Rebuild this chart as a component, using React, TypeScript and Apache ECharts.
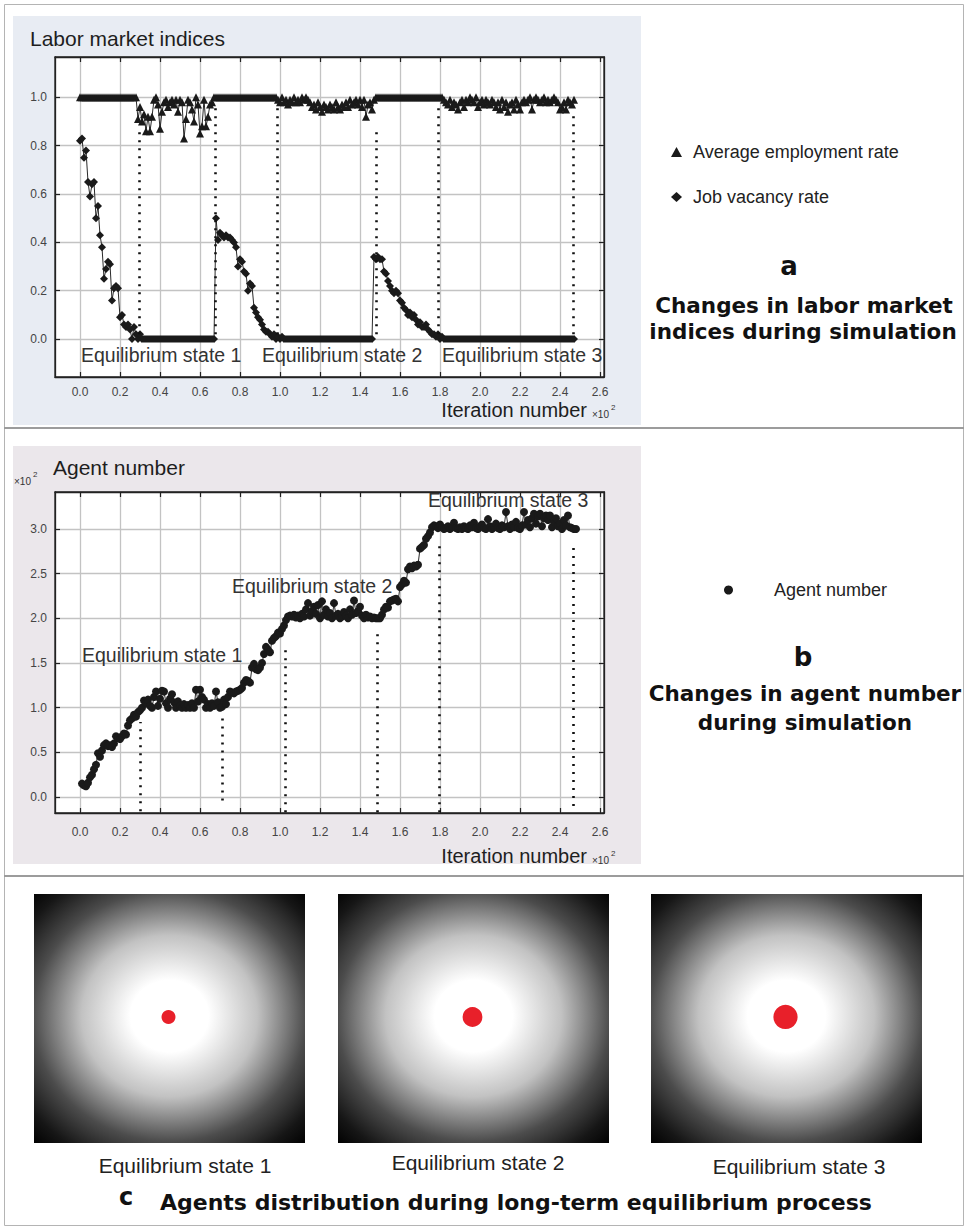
import React, { useEffect, useRef } from "react";
import * as echarts from "echarts";

// ---------- data ----------
// Panel a: one value per iteration, index 0 = iteration 0
const ITER_START_A = 0;
const employmentRate = [
  1.0, 1.0, 1.0, 1.0, 1.0, 1.0, 1.0, 1.0, 1.0, 1.0,
  1.0, 1.0, 1.0, 1.0, 1.0, 1.0, 1.0, 1.0, 1.0, 1.0,
  1.0, 1.0, 1.0, 1.0, 1.0, 1.0, 1.0, 1.0, 1.0,
  0.91, 0.96, 0.90, 0.93, 0.86, 0.92, 0.86, 0.92, 0.99, 1.00,
  0.97, 0.87, 0.94, 0.98, 0.99, 0.96, 0.98, 0.99, 0.97, 0.99,
  0.94, 0.99, 0.98, 0.83, 0.91, 0.99, 0.98, 0.95, 0.90, 1.00,
  0.97, 0.85, 0.88, 0.99, 0.88, 0.92, 0.97, 0.98, 1.00,
  1.0, 1.0, 1.0, 1.0, 1.0, 1.0, 1.0, 1.0, 1.0, 1.0,
  1.0, 1.0, 1.0, 1.0, 1.0, 1.0, 1.0, 1.0, 1.0, 1.0,
  1.0, 1.0, 1.0, 1.0, 1.0, 1.0, 1.0, 1.0, 1.0, 1.0, 1.0,
  0.99, 0.98, 1.00, 0.98, 0.99, 0.97, 0.99, 0.98, 1.00, 0.98,
  0.99, 0.98, 1.00, 0.99, 1.00, 0.99, 0.98, 0.96, 0.97, 0.95,
  0.98, 0.96, 0.94, 0.97, 0.96, 0.95, 0.97, 0.96, 0.95, 0.98,
  0.96, 0.95, 0.97, 0.96, 0.98, 0.96, 0.99, 0.97, 0.98, 0.99,
  0.97, 0.99, 0.96, 0.99, 0.92, 0.97, 0.98, 0.95, 0.99,
  1.0, 1.0, 1.0, 1.0, 1.0, 1.0, 1.0, 1.0, 1.0, 1.0,
  1.0, 1.0, 1.0, 1.0, 1.0, 1.0, 1.0, 1.0, 1.0, 1.0,
  1.0, 1.0, 1.0, 1.0, 1.0, 1.0, 1.0, 1.0, 1.0, 1.0,
  1.0, 1.0, 1.0,
  1.00, 0.99, 0.98, 0.97, 0.99, 0.96, 0.98, 0.97, 0.95, 0.98,
  0.99, 0.96, 0.99, 0.98, 1.00, 0.99, 0.98, 1.00, 0.96, 0.98,
  0.99, 0.97, 0.99, 0.98, 0.97, 0.99, 0.98, 0.96, 0.98, 0.95,
  0.99, 0.96, 0.98, 0.94, 0.97, 0.98, 0.95, 0.99, 0.97, 0.95,
  0.98, 0.99, 0.98, 0.99, 1.00, 0.95, 0.99, 1.00, 0.99, 0.98,
  0.99, 1.00, 0.98, 0.99, 0.98, 0.99, 1.00, 0.99, 0.98, 0.95,
  0.96, 0.98, 0.95, 0.99, 0.98, 0.97, 0.99,
];

const jobVacancyRate = [
  0.82, 0.83, 0.75, 0.78, 0.65, 0.59, 0.64, 0.65, 0.50, 0.55,
  0.43, 0.38, 0.25, 0.29, 0.32, 0.31, 0.16, 0.21, 0.22, 0.21,
  0.09, 0.10, 0.06, 0.05, 0.06, 0.04, 0.00, 0.05, 0.02, 0.00,
  0.02, 0.00,
  0, 0, 0, 0, 0, 0, 0, 0, 0, 0,
  0, 0, 0, 0, 0, 0, 0, 0, 0, 0,
  0, 0, 0, 0, 0, 0, 0, 0, 0, 0,
  0, 0, 0, 0, 0, 0,
  0.50, 0.41, 0.44, 0.43, 0.42, 0.43, 0.42, 0.42, 0.41, 0.40,
  0.38, 0.30, 0.33, 0.32, 0.28, 0.27, 0.20, 0.23, 0.22, 0.13,
  0.11, 0.09, 0.08, 0.06, 0.04, 0.03, 0.03, 0.02, 0.01, 0.02,
  0.00, 0.01, 0.00, 0.01, 0.00,
  0, 0, 0, 0, 0, 0, 0, 0, 0, 0,
  0, 0, 0, 0, 0, 0, 0, 0, 0, 0,
  0, 0, 0, 0, 0, 0, 0, 0, 0, 0,
  0, 0, 0, 0, 0, 0, 0, 0, 0, 0,
  0, 0, 0, 0,
  0.34, 0.33, 0.34, 0.33, 0.33, 0.28, 0.27, 0.24, 0.22, 0.20,
  0.19, 0.20, 0.19, 0.16, 0.15, 0.13, 0.12, 0.10, 0.11, 0.09,
  0.10, 0.08, 0.06, 0.07, 0.05, 0.05, 0.06, 0.04, 0.03, 0.02,
  0.02, 0.01, 0.02, 0.00, 0.01, 0.00,
  0, 0, 0, 0, 0, 0, 0, 0, 0, 0,
  0, 0, 0, 0, 0, 0, 0, 0, 0, 0,
  0, 0, 0, 0, 0, 0, 0, 0, 0, 0,
  0, 0, 0, 0, 0, 0, 0, 0, 0, 0,
  0, 0, 0, 0, 0, 0, 0, 0, 0, 0,
  0, 0, 0, 0, 0, 0, 0, 0, 0, 0,
  0, 0, 0, 0, 0,
];

// Panel b: agent number (x10^2), index 0 = iteration 1
const ITER_START_B = 1;
const agentNumber = [
  0.15, 0.13, 0.12, 0.16, 0.22, 0.25, 0.31, 0.36, 0.49, 0.45,
  0.52, 0.58, 0.60, 0.57, 0.58, 0.56, 0.60, 0.68, 0.66, 0.65,
  0.68, 0.71, 0.70, 0.80, 0.86, 0.88, 0.92, 0.90, 0.95, 0.97,
  1.00, 1.08, 1.05, 1.09, 1.02, 1.00, 1.12, 1.18, 1.02, 1.10,
  1.19, 1.18, 1.05, 1.00, 1.10, 1.15, 1.06, 1.00, 1.07, 1.02,
  1.00, 1.04, 1.00, 1.03, 1.00, 1.05, 1.00, 1.20, 1.07, 1.20,
  1.12, 1.09, 1.00, 1.04, 1.00, 1.05, 1.02, 1.18, 1.06, 1.00,
  1.01, 1.09, 1.04, 1.12, 1.18, 1.17, 1.16, 1.18, 1.19, 1.20,
  1.22, 1.28, 1.31, 1.30, 1.28, 1.45, 1.49, 1.43, 1.42, 1.45,
  1.50, 1.60, 1.68, 1.65, 1.62, 1.75, 1.78, 1.80, 1.84, 1.83,
  1.88, 1.92, 1.98, 2.02, 2.03, 2.02, 2.04, 2.01, 2.03, 2.00,
  2.05, 2.02, 2.10, 2.17, 2.03, 2.08, 2.13, 2.05, 2.15, 2.00,
  2.19, 2.04, 2.10, 2.02, 2.06, 2.00, 2.17, 2.03, 2.05, 2.00,
  2.02, 2.07, 2.03, 2.00, 2.10, 2.04, 2.20, 2.06, 2.08, 2.13,
  2.03, 2.00, 2.04, 2.01, 2.02, 2.00, 2.01, 2.00, 2.00, 2.00,
  2.04, 2.10, 2.13, 2.12, 2.19, 2.20, 2.21, 2.22, 2.19, 2.35,
  2.38, 2.42, 2.40, 2.55, 2.58, 2.56, 2.59, 2.58, 2.60, 2.78,
  2.80, 2.82, 2.89, 2.92, 2.96, 3.02, 3.04, 3.03, 3.01, 3.05,
  3.02, 3.00, 3.01, 3.03, 3.00, 3.02, 3.07, 3.01, 3.00, 3.02,
  3.00, 3.03, 3.01, 3.00, 3.04, 3.02, 3.07, 3.01, 3.00, 3.03,
  3.05, 3.01, 3.00, 3.11, 3.03, 3.00, 3.02, 3.06, 3.01, 3.00,
  3.04, 3.02, 3.19, 3.03, 3.00, 3.05, 3.02, 3.08, 3.01, 3.00,
  3.04, 3.19, 3.05, 3.10, 3.02, 3.12, 3.17, 3.06, 3.14, 3.17,
  3.03, 3.12, 3.15, 3.10, 3.15, 3.02, 3.08, 3.12, 3.03, 3.06,
  3.00, 3.10, 3.04, 3.15, 3.02, 3.01, 3.00, 3.00,
];

// tick values (iterations; labelled in units of 10^2)
const xTickValues = [0, 20, 40, 60, 80, 100, 120, 140, 160, 180, 200, 220, 240, 260];
const yTicksA = [0, 0.2, 0.4, 0.6, 0.8, 1.0];
const yTicksB = [0, 0.5, 1.0, 1.5, 2.0, 2.5, 3.0];

// equilibrium markers (iteration, dotted-line bottom, dotted-line top)
const eqIterA = [29.5, 67.5, 98.5, 148, 179, 246.5];
const eqFromA = [0.02, 0.02, 0.02, 0.02, 0.02, 0.02];
const eqToA = [0.87, 0.97, 0.96, 0.87, 0.96, 0.93];
const eqIterB = [30, 71, 102.5, 148.5, 179.5, 246.5];
const eqFromB = [-0.16, -0.04, -0.17, -0.17, -0.17, -0.1];
const eqToB = [0.84, 0.9, 1.67, 1.89, 2.82, 2.85];

const eqStateNames = ["Equilibrium state 1", "Equilibrium state 2", "Equilibrium state 3"];
const eqAgentCounts = [100, 200, 300];

// ---------- styling ----------
const FONT = "'Liberation Sans', Arial, sans-serif";
const BOLD = "'DejaVu Sans', sans-serif";
const INK = "#1a1a1a";

const X_MIN = -12.5;
const X_MAX = 262;

function xAxesFor(gridIndex: number) {
  const common = {
    type: "value",
    gridIndex,
    min: X_MIN,
    max: X_MAX,
    axisLine: { show: true, onZero: false, lineStyle: { color: "#222", width: 1.3 } },
    axisTick: { show: true, inside: true, length: 5, customValues: xTickValues, lineStyle: { color: "#222", width: 1.2 } },
  };
  return [
    {
      ...common,
      position: "bottom",
      axisLabel: {
        show: true,
        customValues: xTickValues,
        formatter: (v: number) => (v / 100).toFixed(1),
        margin: gridIndex === 0 ? 9 : 13,
        fontSize: 12,
        color: "#444",
        fontFamily: FONT,
      },
      splitLine: { show: true, lineStyle: { color: "#c3c3c3", width: 1.3 } },
    },
    {
      ...common,
      position: "top",
      axisLabel: { show: false },
      splitLine: { show: false },
    },
  ];
}

function yAxesFor(gridIndex: number, min: number, max: number, ticks: number[]) {
  const common = {
    type: "value",
    gridIndex,
    min,
    max,
    axisLine: { show: true, onZero: false, lineStyle: { color: "#222", width: 1.3 } },
    axisTick: { show: true, inside: true, length: 5, customValues: ticks, lineStyle: { color: "#222", width: 1.2 } },
  };
  return [
    {
      ...common,
      position: "left",
      axisLabel: {
        show: true,
        customValues: ticks,
        formatter: (v: number) => v.toFixed(1),
        margin: 8,
        fontSize: 12,
        color: "#444",
        fontFamily: FONT,
      },
      splitLine: { show: true, lineStyle: { color: "#c3c3c3", width: 1.3 } },
    },
    {
      ...common,
      position: "right",
      axisLabel: { show: false },
      splitLine: { show: false },
    },
  ];
}

function dottedLines(iters: number[], from: number[], to: number[]) {
  return {
    silent: true,
    animation: false,
    symbol: ["none", "none"],
    label: { show: false },
    emphasis: { disabled: true },
    lineStyle: { type: [2, 6], width: 2.6, color: "#111", cap: "butt" },
    data: iters.map((it, i) => [{ coord: [it, from[i]] }, { coord: [it, to[i]] }]),
  };
}

function txt(text: string, x: number, y: number, size: number, opts: any = {}) {
  const align = opts.align || "left";
  return {
    type: "text",
    x,
    y,
    z: 50,
    silent: true,
    style: {
      text,
      fontSize: size,
      fontFamily: opts.family || FONT,
      fontWeight: opts.weight || "normal",
      fill: opts.color || "#222",
      align,
      textAlign: align,
      verticalAlign: "middle",
      textVerticalAlign: "middle",
    },
  };
}

// panel c geometry
const cBoxX = [34, 338, 651];
const cBoxY = 894;
const cBoxW = 271;
const cBoxH = 249;
const cLabelX = [185, 478, 799];
const cLabelY = [1165, 1162, 1166];

function buildGraphics() {
  const g: any[] = [
    { type: "rect", z: -30, silent: true, shape: { x: 4.5, y: 4.5, width: 959, height: 1221 }, style: { fill: "#fff", stroke: "#b4b4b4", lineWidth: 1 } },
    { type: "rect", z: -20, silent: true, shape: { x: 13, y: 16, width: 628, height: 409 }, style: { fill: "#e8ecf3" } },
    { type: "rect", z: -20, silent: true, shape: { x: 13, y: 446, width: 628, height: 418 }, style: { fill: "#ebe7eb" } },
    { type: "line", z: -20, silent: true, shape: { x1: 4, y1: 428, x2: 964, y2: 428 }, style: { stroke: "#9c9c9c", lineWidth: 2 } },
    { type: "line", z: -20, silent: true, shape: { x1: 4, y1: 876, x2: 964, y2: 876 }, style: { stroke: "#9c9c9c", lineWidth: 2 } },

    // panel a texts
    txt("Labor market indices", 30, 38, 21, { color: "#1e1e1e" }),
    txt("Equilibrium state 1", 81, 355, 19.5, { color: "#333" }),
    txt("Equilibrium state 2", 262, 355, 19.5, { color: "#333" }),
    txt("Equilibrium state 3", 442, 355, 19.5, { color: "#333" }),
    txt("Iteration number", 587, 410, 20, { align: "right", color: "#1e1e1e" }),
    txt("×10", 592, 414, 10, { color: "#333" }),
    txt("2", 611, 407, 8, { color: "#333" }),
    txt("a", 789, 266, 26, { align: "center", weight: "bold", family: BOLD, color: "#111" }),
    txt("Changes in labor market", 804, 305, 21.5, { align: "center", weight: "bold", family: BOLD, color: "#111" }),
    txt("indices during simulation", 803, 331, 21.5, { align: "center", weight: "bold", family: BOLD, color: "#111" }),

    // panel b texts
    txt("Agent number", 53, 467, 21, { color: "#1e1e1e" }),
    txt("×10", 14, 481, 10, { color: "#333" }),
    txt("2", 33, 474, 8, { color: "#333" }),
    txt("Equilibrium state 1", 82, 655, 19.5, { color: "#333" }),
    txt("Equilibrium state 2", 232, 586, 19.5, { color: "#333" }),
    txt("Equilibrium state 3", 428, 500, 19.5, { color: "#333" }),
    txt("Iteration number", 587, 856, 20, { align: "right", color: "#1e1e1e" }),
    txt("×10", 592, 860, 10, { color: "#333" }),
    txt("2", 611, 853, 8, { color: "#333" }),
    txt("b", 803, 657, 26, { align: "center", weight: "bold", family: BOLD, color: "#111" }),
    txt("Changes in agent number", 805, 693, 21.5, { align: "center", weight: "bold", family: BOLD, color: "#111" }),
    txt("during simulation", 805, 722, 21.5, { align: "center", weight: "bold", family: BOLD, color: "#111" }),

    // panel c caption
    txt("c", 126, 1197, 24, { align: "center", weight: "bold", family: BOLD, color: "#111" }),
    txt("Agents distribution during long-term equilibrium process", 160, 1202, 22, { weight: "bold", family: BOLD, color: "#111" }),
  ];

  eqStateNames.forEach((name, i) => {
    g.push({
      type: "rect",
      z: 5,
      silent: true,
      shape: { x: cBoxX[i], y: cBoxY, width: cBoxW, height: cBoxH },
      style: {
        fill: {
          type: "radial",
          x: 0.5,
          y: 0.49,
          r: 0.72,
          colorStops: [
            { offset: 0, color: "#ffffff" },
            { offset: 0.2, color: "#ffffff" },
            { offset: 0.45, color: "#c2c2c2" },
            { offset: 0.7, color: "#4c4c4c" },
            { offset: 0.88, color: "#161616" },
            { offset: 1, color: "#000000" },
          ],
        },
      },
    });
    g.push({
      type: "circle",
      z: 6,
      silent: true,
      shape: { cx: cBoxX[i] + cBoxW / 2 - 1, cy: 1017, r: 0.7 * Math.sqrt(eqAgentCounts[i]) },
      style: { fill: "#e8202a" },
    });
    g.push(txt(name, cLabelX[i], cLabelY[i], 21, { align: "center", color: "#222" }));
  });

  return g;
}

function buildOption() {
  const empData = employmentRate.map((v, i) => [ITER_START_A + i, v]);
  const vacData = jobVacancyRate.map((v, i) => [ITER_START_A + i, v]);
  const agentData = agentNumber.map((v, i) => [ITER_START_B + i, v]);

  const xA = xAxesFor(0);
  const xB = xAxesFor(1);
  const yA = yAxesFor(0, -0.157, 1.167, yTicksA);
  const yB = yAxesFor(1, -0.179, 3.414, yTicksB);

  const lineCommon = {
    type: "line",
    showSymbol: true,
    showAllSymbol: true,
    emphasis: { disabled: true },
    lineStyle: { color: "#2a2a2a", width: 1 },
    z: 3,
  };

  return {
    animation: false,
    backgroundColor: "#ffffff",
    textStyle: { fontFamily: FONT },
    grid: [
      { left: 55, top: 57, width: 549, height: 320, show: true, backgroundColor: "#ffffff", borderColor: "#222", borderWidth: 1.3, outerBoundsMode: "none", containLabel: false },
      { left: 55, top: 492, width: 549, height: 321, show: true, backgroundColor: "#ffffff", borderColor: "#222", borderWidth: 1.3, outerBoundsMode: "none", containLabel: false },
    ],
    xAxis: [xA[0], xA[1], xB[0], xB[1]],
    yAxis: [yA[0], yA[1], yB[0], yB[1]],
    legend: [
      {
        orient: "vertical",
        left: 666,
        top: 137,
        itemWidth: 11,
        itemHeight: 10,
        itemGap: 25,
        selectedMode: false,
        data: [
          { name: "Average employment rate", icon: "triangle" },
          { name: "Job vacancy rate", icon: "diamond" },
        ],
        textStyle: { fontSize: 18, fontFamily: FONT, color: "#222", lineHeight: 20, padding: [0, 0, 0, 6] },
      },
      {
        orient: "vertical",
        left: 719,
        top: 575,
        itemWidth: 9,
        itemHeight: 9,
        selectedMode: false,
        data: [{ name: "Agent number", icon: "circle" }],
        textStyle: { fontSize: 18, fontFamily: FONT, color: "#222", lineHeight: 20, padding: [0, 0, 0, 36] },
      },
    ],
    series: [
      {
        ...lineCommon,
        name: "Average employment rate",
        xAxisIndex: 0,
        yAxisIndex: 0,
        data: empData,
        symbol: "triangle",
        symbolSize: 8,
        itemStyle: { color: INK },
      },
      {
        ...lineCommon,
        name: "Job vacancy rate",
        xAxisIndex: 0,
        yAxisIndex: 0,
        data: vacData,
        symbol: "diamond",
        symbolSize: 8,
        itemStyle: { color: INK },
        markLine: dottedLines(eqIterA, eqFromA, eqToA),
      },
      {
        ...lineCommon,
        name: "Agent number",
        xAxisIndex: 2,
        yAxisIndex: 2,
        data: agentData,
        symbol: "circle",
        symbolSize: 8,
        itemStyle: { color: INK },
        markLine: dottedLines(eqIterB, eqFromB, eqToB),
      },
    ],
    graphic: { elements: buildGraphics() },
  };
}

export default function App() {
  const ref = useRef<HTMLDivElement>(null);
  useEffect(() => {
    if (!ref.current) return;
    const chart = echarts.init(ref.current, null, { renderer: "svg", width: 968, height: 1230 });
    chart.setOption(buildOption() as any);
    return () => chart.dispose();
  }, []);
  return (
    <div
      ref={ref}
      style={{ position: "absolute", left: 0, top: 0, width: 968, height: 1230, background: "#fff" }}
    />
  );
}
